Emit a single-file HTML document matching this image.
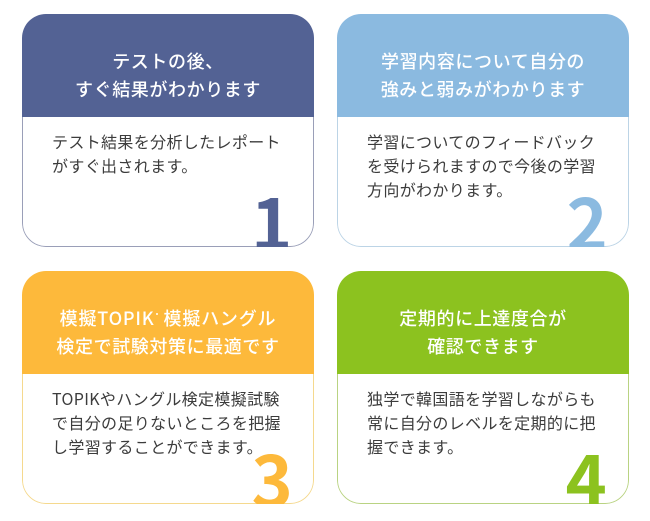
<!DOCTYPE html>
<html lang="ja"><head><meta charset="utf-8">
<style>
html,body{margin:0;padding:0;background:#fff;width:650px;height:521px;overflow:hidden}
body{position:relative;font-family:"Liberation Sans","Noto Sans CJK JP",sans-serif}
.c{font-family:"Noto Sans CJK JP",sans-serif;position:absolute;width:292px;height:233px;border-radius:24px;overflow:hidden;background:#fff}
.c::after{content:"";position:absolute;left:0;top:0;right:0;bottom:0;border:1.7px solid var(--e);border-radius:24px;clip-path:inset(103px 0 0 0)}
.h{position:absolute;left:0;right:0;top:0;height:102.5px;color:#fff;text-align:center;font-size:18px;line-height:28.6px;letter-spacing:.6px;font-weight:500;box-sizing:border-box;padding-top:32.5px;white-space:nowrap}
.b{position:absolute;left:30px;top:115px;width:250px;font-size:16px;line-height:24px;color:#3c3c3c;letter-spacing:.35px;white-space:nowrap;font-weight:400}
.n{position:absolute;font-size:70px;font-weight:700;line-height:74px;top:169.5px;z-index:2}
.d{display:inline-block;width:9px;height:0;position:relative}
.d::before{content:"";position:absolute;left:1px;top:-12px;width:2px;height:2px;border-radius:50%;background:#fff}
</style></head><body>
<div class="c" style="left:22px;top:14px;--e:#9a9fb8">
<div class="h" style="background:#536294">テストの後、<br>すぐ結果がわかります</div>
<div class="b">テスト結果を分析したレポート<br>がすぐ出されます。</div>
<div class="n" style="left:229px;color:#536294">1</div></div>
<div class="c" style="left:337px;top:14px;--e:#bcd4e6">
<div class="h" style="background:#8bbae0">学習内容について自分の<br>強みと弱みがわかります</div>
<div class="b">学習についてのフィードバック<br>を受けられますので今後の学習<br>方向がわかります。</div>
<div class="n" style="left:229.5px;color:#8bbae0">2</div></div>
<div class="c" style="left:22px;top:271px;--e:#f5d98e">
<div class="h" style="background:#fdb93b"><span style="letter-spacing:.8px">模擬TOPIK<span class="d"></span>模擬ハングル</span><br>検定で試験対策に最適です</div>
<div class="b">TOPIKやハングル検定模擬試験<br>で自分の足りないところを把握<br>し学習することができます。</div>
<div class="n" style="left:229.5px;color:#fdb93b">3</div></div>
<div class="c" style="left:337px;top:271px;--e:#b9d382">
<div class="h" style="background:#8cc21f">定期的に上達度合が<br>確認できます</div>
<div class="b">独学で韓国語を学習しながらも<br>常に自分のレベルを定期的に把<br>握できます。</div>
<div class="n" style="left:228.5px;color:#8cc21f">4</div></div>
</body></html>
